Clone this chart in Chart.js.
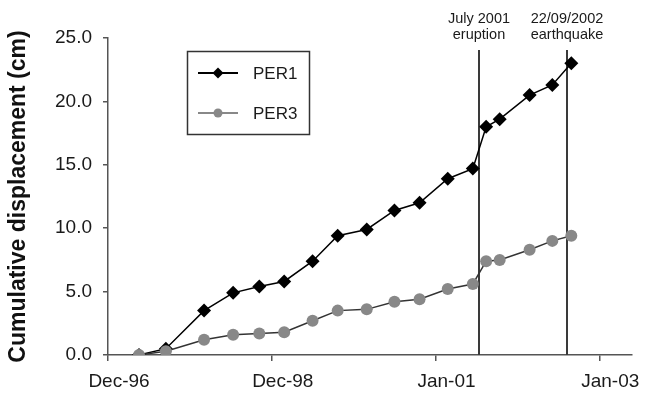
<!DOCTYPE html>
<html>
<head>
<meta charset="utf-8">
<script src="https://cdn.jsdelivr.net/npm/chart.js@4.4.1/dist/chart.umd.min.js"></script>
<style>
  html, body { margin: 0; padding: 0; background: #fff; }
  #wrap { width: 649px; height: 393px; }
</style>
</head>
<body>
<div id="wrap"><canvas id="dispChart" width="649" height="393"></canvas></div>
<script>
// survey dates, as days counted from the start of the x axis
const surveyDays = [142, 265, 440, 573, 693, 807, 937, 1052, 1185, 1312, 1427, 1556, 1671, 1732, 1794, 1931, 2035, 2122];
const per1 = [0.0, 0.5, 3.5, 4.9, 5.4, 5.8, 7.4, 9.4, 9.9, 11.4, 12.0, 13.9, 14.7, 18.0, 18.6, 20.5, 21.3, 23.0];
const per3 = [0.0, 0.3, 1.2, 1.6, 1.7, 1.8, 2.7, 3.5, 3.6, 4.2, 4.4, 5.2, 5.6, 7.4, 7.5, 8.3, 9.0, 9.4];
const xTickDays = [0, 750, 1500, 2250];
const xTickLabels = ['Dec-96', 'Dec-98', 'Jan-01', 'Jan-03'];
const eventDays = [1697, 2101];
const eventLabels = [['July 2001', 'eruption'], ['22/09/2002', 'earthquake']];

const FONT = "'Liberation Sans', Arial, sans-serif";
Chart.defaults.font.family = FONT;

const toPoints = vals => vals.map((v, i) => ({ x: surveyDays[i], y: v }));

// vertical event markers with their captions
const eventLines = {
  id: 'eventLines',
  beforeDatasetsDraw(chart) {
    const { ctx, chartArea, scales: { x } } = chart;
    ctx.save();
    ctx.strokeStyle = '#3a3a3a';
    ctx.lineWidth = 2;
    ctx.fillStyle = '#1a1a1a';
    ctx.font = '14.5px ' + FONT;
    ctx.textAlign = 'center';
    ctx.textBaseline = 'alphabetic';
    eventDays.forEach((d, i) => {
      const px = Math.round(x.getPixelForValue(d));
      ctx.beginPath();
      ctx.moveTo(px, chartArea.top + 12);
      ctx.lineTo(px, chartArea.bottom);
      ctx.stroke();
      eventLabels[i].forEach((t, j) => ctx.fillText(t, px, 23 + j * 16));
    });
    ctx.restore();
  }
};

// boxed legend sitting inside the plot
const boxLegend = {
  id: 'boxLegend',
  afterDraw(chart) {
    const ctx = chart.ctx;
    const bx = 187.5, by = 51.5, bw = 122, bh = 83;
    ctx.save();
    ctx.fillStyle = '#fff';
    ctx.fillRect(bx, by, bw, bh);
    ctx.strokeStyle = '#333';
    ctx.lineWidth = 1.5;
    ctx.strokeRect(bx, by, bw, bh);
    const rows = [73, 113];
    const legendLine = ['#000', '#888'];
    chart.data.datasets.forEach((ds, i) => {
      const y = rows[i];
      ctx.strokeStyle = legendLine[i];
      ctx.lineWidth = 2;
      ctx.beginPath();
      ctx.moveTo(198, y);
      ctx.lineTo(238, y);
      ctx.stroke();
      ctx.fillStyle = ds.pointBackgroundColor;
      ctx.beginPath();
      if (ds.pointStyle === 'rectRot') {
        const r = 5.5;
        ctx.moveTo(218, y - r);
        ctx.lineTo(218 + r, y);
        ctx.lineTo(218, y + r);
        ctx.lineTo(218 - r, y);
        ctx.closePath();
      } else {
        ctx.arc(218, y, 4.5, 0, Math.PI * 2);
      }
      ctx.fill();
      ctx.fillStyle = '#1a1a1a';
      ctx.font = '17px ' + FONT;
      ctx.textAlign = 'left';
      ctx.textBaseline = 'middle';
      ctx.fillText(ds.label, 253, y + 1);
    });
    ctx.restore();
  }
};

new Chart(document.getElementById('dispChart'), {
  type: 'scatter',
  data: {
    datasets: [
      {
        label: 'PER1',
        data: toPoints(per1),
        showLine: true,
        borderColor: '#000',
        borderWidth: 1.5,
        pointStyle: 'rectRot',
        pointRadius: 7,
        pointBackgroundColor: '#000',
        pointBorderColor: '#000',
        pointBorderWidth: 0,
        order: 1
      },
      {
        label: 'PER3',
        data: toPoints(per3),
        showLine: true,
        borderColor: '#333',
        borderWidth: 1.5,
        pointStyle: 'circle',
        pointRadius: 6,
        pointBackgroundColor: '#888',
        pointBorderColor: '#888',
        pointBorderWidth: 0,
        order: 0
      }
    ]
  },
  options: {
    responsive: false,
    animation: false,
    layout: { padding: { top: 38, right: 17, bottom: 0, left: 0 } },
    plugins: {
      legend: { display: false },
      tooltip: { enabled: false }
    },
    scales: {
      x: {
        type: 'linear',
        min: 0,
        max: 2400,
        afterBuildTicks: scale => { scale.ticks = xTickDays.map(v => ({ value: v })); },
        afterFit: scale => { scale.height = 38; },
        ticks: {
          callback: (v, i) => xTickLabels[i],
          color: '#1a1a1a',
          font: { size: 19 },
          padding: 9,
          labelOffset: 11,
          maxRotation: 0
        },
        grid: { display: true, drawOnChartArea: false, drawTicks: true, tickLength: 6, color: '#555', lineWidth: 1.5 },
        border: { display: true, color: '#555', width: 1.5 }
      },
      y: {
        min: 0,
        max: 25,
        afterFit: scale => { scale.width = 108; },
        ticks: {
          stepSize: 5,
          callback: v => v.toFixed(1),
          color: '#1a1a1a',
          font: { size: 19 },
          padding: 11
        },
        grid: { display: true, drawOnChartArea: false, drawTicks: true, tickLength: 5, color: '#555', lineWidth: 1.5 },
        border: { display: true, color: '#555', width: 1.5 },
        title: {
          display: true,
          text: 'Cumulative displacement (cm)',
          color: '#111',
          font: { size: 23, weight: 'bold' },
          padding: { top: 5, bottom: 0 }
        }
      }
    }
  },
  plugins: [eventLines, boxLegend]
});
</script>
</body>
</html>
